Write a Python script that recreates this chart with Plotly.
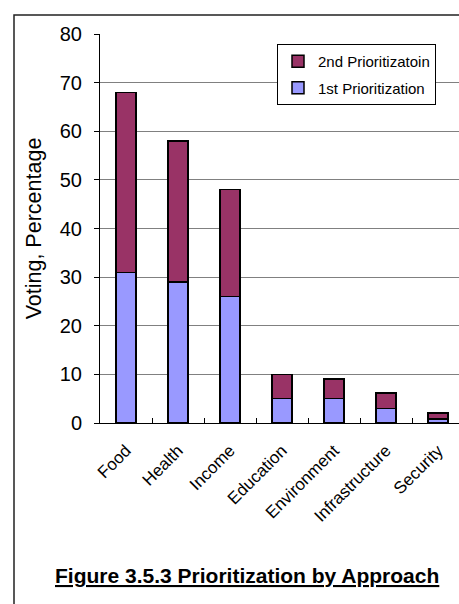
import plotly.graph_objects as go

categories = ["Food", "Health", "Income", "Education", "Environment", "Infrastructure", "Security"]
first_priority = [31, 29, 26, 5, 5, 3, 0.8]
second_priority = [37, 29, 22, 5, 4, 3.2, 1.3]

FONT = "Liberation Sans, Arial, sans-serif"

fig = go.Figure()
fig.add_trace(go.Bar(
    x=categories, y=first_priority, name="1st Prioritization",
    legendgroup="first", legendrank=2,
    marker=dict(color="#9999FF", line=dict(color="black", width=1.5)),
    width=0.385,
))
fig.add_trace(go.Bar(
    x=categories, y=second_priority, name="2nd Prioritizatoin",
    legendgroup="second", legendrank=1,
    marker=dict(color="#993366", line=dict(color="black", width=1.5)),
    width=0.385,
))

# plot area spans x 100..459 px and y 34..423 px
L, R, T, B = 100, 459, 34, 423
W, H = R - L, B - T


def px(x):
    return (x - L) / W


def py(y):
    return (B - y) / H


fig.update_layout(
    width=459, height=604,
    margin=dict(l=L, r=459 - R, t=T, b=604 - B),
    paper_bgcolor="white", plot_bgcolor="white",
    barmode="stack",
    font=dict(family=FONT, color="black"),
    showlegend=True,
    legend=dict(
        x=px(277), y=py(44), xanchor="left", yanchor="top",
        traceorder="grouped", tracegroupgap=4,
        bgcolor="white", bordercolor="black", borderwidth=1,
        font=dict(size=15, family=FONT),
    ),
    xaxis=dict(
        range=[-0.5, -0.5 + W / 52],
        showline=True, linecolor="black", linewidth=1,
        ticks="inside", tickson="boundaries", ticklen=5, tickcolor="black",
        tickangle=-45, tickfont=dict(size=17), ticklabelstandoff=10,
        showgrid=False, zeroline=False,
    ),
    yaxis=dict(
        range=[0, 80], dtick=10,
        showline=True, linecolor="black", linewidth=1,
        ticks="outside", ticklen=5, tickcolor="black",
        tickfont=dict(size=20), ticklabelstandoff=8,
        showgrid=True, gridcolor="#808080", gridwidth=1,
        zeroline=False,
        title=dict(text="Voting, Percentage", font=dict(size=21.5), standoff=12),
    ),
    annotations=[dict(
        text="<b><u>Figure 3.5.3 Prioritization by Approach</u></b>",
        xref="paper", yref="paper", x=px(247), y=py(575),
        xanchor="center", yanchor="middle", showarrow=False,
        font=dict(size=21, family=FONT),
    )],
    shapes=[dict(
        type="path", xref="paper", yref="paper",
        path=f"M {px(14)} {py(604)} L {px(14)} {py(15)} L {px(470)} {py(15)}",
        line=dict(color="#222222", width=1.5),
    )],
)

fig.write_html("out.html")
